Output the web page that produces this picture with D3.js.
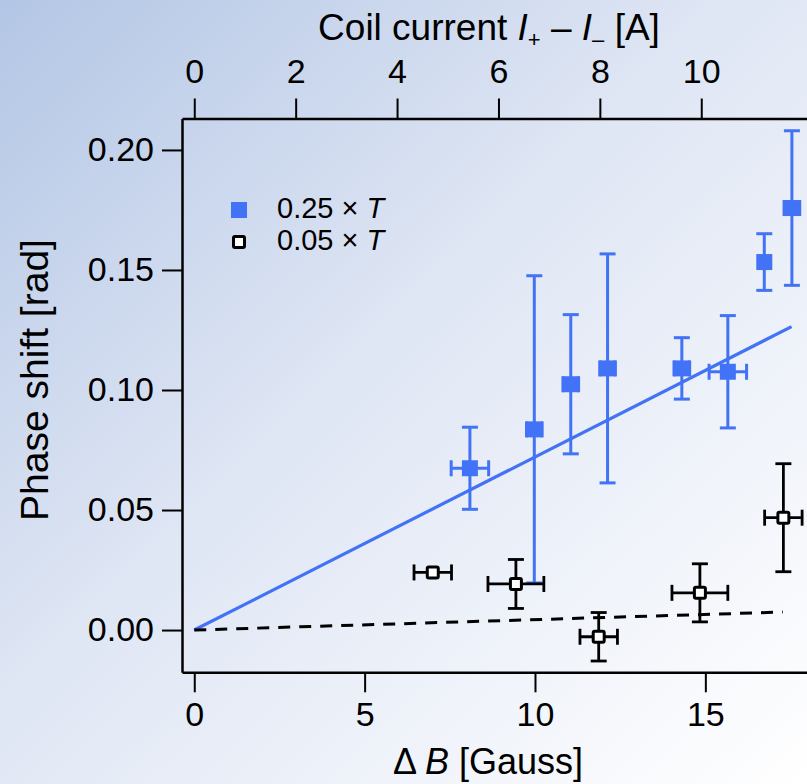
<!DOCTYPE html>
<html><head><meta charset="utf-8">
<script src="https://cdn.jsdelivr.net/npm/d3@7"></script>
<style>
html,body{margin:0;padding:0;overflow:hidden;background:#fff;}
text{font-family:"Liberation Sans",Arial,Helvetica,sans-serif;}
</style></head>
<body>
<svg id="chart" width="807" height="784"></svg>
<script>
// ---- data ----
const blueB = [8.09, 9.98, 11.05, 12.13, 14.31, 15.66, 16.73, 17.54];
const bluePhase = [0.0674, 0.0836, 0.1024, 0.109, 0.109, 0.1076, 0.1533, 0.1758];
const blueErrPhase = [0.0171, 0.064, 0.029, 0.0477, 0.0128, 0.0234, 0.0118, 0.0322];
const blueErrB = [0.55, 0.23, 0.23, 0.23, 0.23, 0.55, 0, 0.23];

const blackB = [7.0, 9.44, 11.87, 14.84, 17.29];
const blackPhase = [0.024, 0.0192, -0.0028, 0.0155, 0.0468];
const blackErrPhase = [0, 0.0102, 0.0101, 0.0121, 0.0225];
const blackErrB = [0.55, 0.82, 0.55, 0.82, 0.55];

const fitBlueB = [0, 17.53], fitBluePhase = [0, 0.1264];
const fitBlackB = [0, 17.27], fitBlackPhase = [0, 0.0075];

const bottomTicks = [0, 5, 10, 15];
const topTicks = [0, 2, 4, 6, 8, 10];
const leftTicks = [0, 0.05, 0.10, 0.15, 0.20];
const gaussPerAmp = 1.488;
const legendLabels = ["0.25", "0.05"];

// ---- layout ----
const BLUE = "#4273f6";
const svg = d3.select("#chart");
const defs = svg.append("defs");
const grad = defs.append("linearGradient").attr("id","bg").attr("x1",0).attr("y1",0).attr("x2",1).attr("y2",1);
grad.append("stop").attr("offset",0).attr("stop-color","#b3c6e5");
grad.append("stop").attr("offset",0.45).attr("stop-color","#dfe6f4");
grad.append("stop").attr("offset",1).attr("stop-color","#ffffff");
svg.append("rect").attr("width",807).attr("height",784).attr("fill","url(#bg)");

const x = d3.scaleLinear().domain([-0.36, 18.5]).range([182, 824.6]);
const xTop = d3.scaleLinear().domain([-0.36/gaussPerAmp, 18.5/gaussPerAmp]).range([182, 824.6]);
const y = d3.scaleLinear().domain([-0.0176, 0.2131]).range([672.3, 118.5]);

function styleAxis(g){
  g.selectAll("path.domain").attr("stroke","#000").attr("stroke-width",2.5);
  g.selectAll(".tick line").attr("stroke","#000").attr("stroke-width",2);
  g.selectAll(".tick text").attr("fill","#000").attr("font-size",34).attr("font-family","Liberation Sans, Arial, sans-serif");
}
const gB = svg.append("g").attr("transform","translate(0,672.3)")
  .call(d3.axisBottom(x).tickValues(bottomTicks).tickFormat(d3.format("d")).tickSize(20).tickSizeOuter(0).tickPadding(10));
styleAxis(gB);
const gT = svg.append("g").attr("transform","translate(0,118.5)")
  .call(d3.axisTop(xTop).tickValues(topTicks).tickFormat(d3.format("d")).tickSize(20).tickSizeOuter(0).tickPadding(16));
styleAxis(gT);
const gL = svg.append("g").attr("transform","translate(182,0)")
  .call(d3.axisLeft(y).tickValues(leftTicks).tickFormat(d3.format(".2f")).tickSize(20).tickSizeOuter(0).tickPadding(8));
styleAxis(gL);

// axis titles
const tt = svg.append("text").attr("x",489).attr("y",40).attr("text-anchor","middle").attr("font-size",37).attr("fill","#000");
tt.append("tspan").text("Coil current ");
tt.append("tspan").attr("font-style","italic").text("I");
tt.append("tspan").attr("font-size",22).attr("dy",7).text("+");
tt.append("tspan").attr("dy",-7).text(" \u2013 ");
tt.append("tspan").attr("font-style","italic").text("I");
tt.append("tspan").attr("font-size",22).attr("dy",7).text("\u2013");
tt.append("tspan").attr("dy",-7).text(" [A]");

const bt = svg.append("text").attr("x",488).attr("y",774).attr("text-anchor","middle").attr("font-size",36).attr("fill","#000");
bt.append("tspan").text("\u0394 ");
bt.append("tspan").attr("font-style","italic").text("B");
bt.append("tspan").text(" [Gauss]");

svg.append("text").attr("transform","translate(48,380) rotate(-90)").attr("text-anchor","middle")
  .attr("font-size",39).attr("fill","#000").text("Phase shift [rad]");

// ---- series ----
const blue = blueB.map((b,i)=>({b, p:bluePhase[i], ep:blueErrPhase[i], eb:blueErrB[i]}));
const black = blackB.map((b,i)=>({b, p:blackPhase[i], ep:blackErrPhase[i], eb:blackErrB[i]}));

function errorBars(g, data, color, sw){
  const cap = 8;
  data.forEach(d=>{
    if(d.ep>0){
      g.append("line").attr("x1",x(d.b)).attr("x2",x(d.b)).attr("y1",y(d.p-d.ep)).attr("y2",y(d.p+d.ep)).attr("stroke",color).attr("stroke-width",sw);
      [d.p-d.ep, d.p+d.ep].forEach(v=>g.append("line").attr("x1",x(d.b)-cap).attr("x2",x(d.b)+cap).attr("y1",y(v)).attr("y2",y(v)).attr("stroke",color).attr("stroke-width",sw));
    }
    if(d.eb>0){
      g.append("line").attr("x1",x(d.b-d.eb)).attr("x2",x(d.b+d.eb)).attr("y1",y(d.p)).attr("y2",y(d.p)).attr("stroke",color).attr("stroke-width",sw);
      [d.b-d.eb, d.b+d.eb].forEach(v=>g.append("line").attr("x1",x(v)).attr("x2",x(v)).attr("y1",y(d.p)-cap).attr("y2",y(d.p)+cap).attr("stroke",color).attr("stroke-width",sw));
    }
  });
}

const line = d3.line().x(d=>x(d[0])).y(d=>y(d[1]));
const gBlue = svg.append("g");
errorBars(gBlue, blue, BLUE, 3);
gBlue.append("path").attr("d", line(fitBlueB.map((b,i)=>[b, fitBluePhase[i]]))).attr("stroke",BLUE).attr("stroke-width",3.2).attr("fill","none");
gBlue.selectAll("rect.sq").data(blue).enter().append("rect")
  .attr("x",d=>x(d.b)-8).attr("y",d=>y(d.p)-8).attr("width",16).attr("height",16).attr("fill",BLUE);

const gBlack = svg.append("g");
gBlack.append("path").attr("d", line(fitBlackB.map((b,i)=>[b, fitBlackPhase[i]]))).attr("stroke","#000").attr("stroke-width",3).attr("stroke-dasharray","12,9").attr("fill","none");
errorBars(gBlack, black, "#000", 2.8);
gBlack.selectAll("rect.sq").data(black).enter().append("rect")
  .attr("x",d=>x(d.b)-5.5).attr("y",d=>y(d.p)-5.5).attr("width",11).attr("height",11).attr("rx",1.5)
  .attr("fill","#fff").attr("stroke","#000").attr("stroke-width",3);

// ---- legend ----
const lg = svg.append("g");
lg.append("rect").attr("x",231).attr("y",202).attr("width",16).attr("height",16).attr("fill",BLUE);
lg.append("rect").attr("x",233.5).attr("y",236.5).attr("width",11).attr("height",11).attr("rx",1.5).attr("fill","#fff").attr("stroke","#000").attr("stroke-width",3);
[[218,legendLabels[0]],[250,legendLabels[1]]].forEach(([yy,lab])=>{
  const t = lg.append("text").attr("x",277).attr("y",yy).attr("font-size",29).attr("fill","#000");
  t.append("tspan").text(lab+" \u00d7 ");
  t.append("tspan").attr("font-style","italic").text("T");
});
</script>
</body></html>
